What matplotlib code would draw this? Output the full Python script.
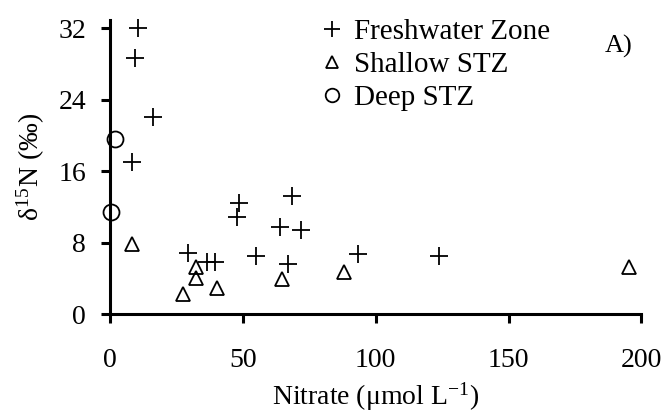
import matplotlib
matplotlib.use("Agg")
import matplotlib.pyplot as plt

plt.rcParams['font.family'] = ['Liberation Serif', 'DejaVu Serif']
plt.rcParams['mathtext.fontset'] = 'stix'

# Data
fresh_x = [10.5, 9.4, 16.2, 8.3, 48.6, 47.8, 68.5, 64.0, 71.9, 29.4, 36.5, 39.5, 55.0, 67.0, 93.5, 124.0]
fresh_y = [32.0, 28.7, 22.0, 17.0, 12.4, 10.9, 13.2, 9.7, 9.4, 6.8, 5.8, 5.8, 6.5, 5.6, 6.7, 6.5]
shallow_x = [8.3, 32.4, 32.4, 27.5, 40.3, 64.8, 88.1, 195.5]
shallow_y = [7.8, 5.3, 4.0, 2.3, 2.9, 3.9, 4.7, 5.3]
deep_x = [1.9, 0.4]
deep_y = [19.6, 11.4]

fig = plt.figure(figsize=(6.68, 4.16), dpi=100)
ax = fig.add_axes([0.165, 0.245, 0.795, 0.707])

ax.plot(fresh_x, fresh_y, '+', color='black', markersize=13, markeredgewidth=1.3,
        label='Freshwater Zone', clip_on=False)
ax.plot(shallow_x, shallow_y, '^', color='black', markerfacecolor='none', markersize=9.5,
        markeredgewidth=1.3, label='Shallow STZ', clip_on=False)
ax.plot(deep_x, deep_y, 'o', color='black', markerfacecolor='none', markersize=11.5,
        markeredgewidth=1.3, label='Deep STZ', clip_on=False)

ax.set_xlim(0, 200)
ax.set_ylim(0, 32.9)
ax.set_xticks([0, 50, 100, 150, 200])
ax.set_yticks([0, 8, 16, 24, 32])

for s in ['top', 'right']:
    ax.spines[s].set_visible(False)
for s in ['left', 'bottom']:
    ax.spines[s].set_linewidth(2.2)
ax.tick_params(direction='out', length=6.5, width=2.2, labelsize=20)
ax.tick_params(axis='x', pad=18)
ax.tick_params(axis='y', pad=11)

ax.set_xlabel('Nitrate (μmol L$^{\\mathregular{-1}}$)', fontsize=20, labelpad=5)
ax.set_ylabel('δ$^{\\mathregular{15}}$N (‰)', fontsize=20, labelpad=8)

leg = ax.legend(loc='upper left', bbox_to_anchor=(0.48, 0.955), bbox_transform=fig.transFigure,
                frameon=False, fontsize=21, handlelength=0.8, handletextpad=0.35,
                labelspacing=0.22, borderaxespad=0, borderpad=0, markerscale=0.85)
ax.text(0.958, 0.91, 'A)', transform=ax.transAxes, fontsize=19, ha='center', va='center')

fig.savefig('out.png', dpi=100)
